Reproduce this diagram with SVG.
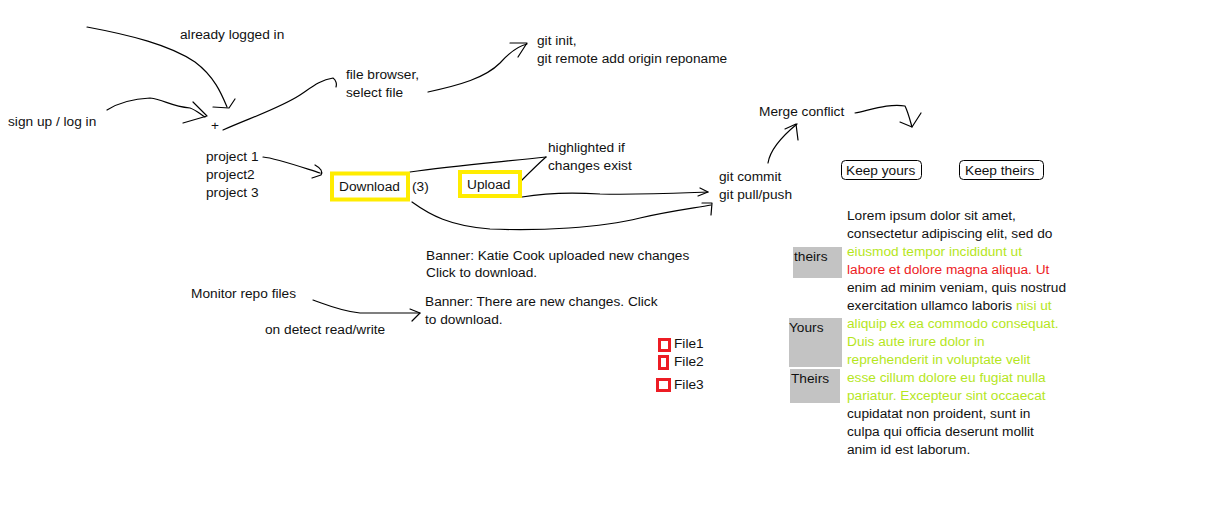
<svg xmlns="http://www.w3.org/2000/svg" width="1213" height="510" viewBox="0 0 1213 510">
<style>
text{font-family:"Liberation Sans",Arial,sans-serif;font-size:13.7px;fill:#111}
.c{fill:none;stroke:#000;stroke-width:1.2;stroke-linejoin:round;stroke-linecap:round}
.y{fill:#fff;stroke:#ffec00;stroke-width:4}
.k{fill:#fff;stroke:#000;stroke-width:1}
.g{fill:#c3c3c3}
.r{fill:#fff;stroke:#ed1c24;stroke-width:3}
.lg{fill:#b5e61d}
.rd{fill:#ed1c24}
</style>
<rect width="1213" height="510" fill="#fff"/>
<g id="connectors">
<path class="c" d="M87,27 C130,35 170,45 195,62 C215,77 222,95 227,107"/>
<path class="c" d="M213,107 L229,108 L235,99"/>
<path class="c" d="M107,110 C118,103 130,99 150,98 C165,100 170,106 190,108 C196,110 200,114 205,117"/>
<path class="c" d="M193,102 L207,116 L183,123"/>
<path class="c" d="M223,130 C250,118 280,108 300,95 C312,87 320,80 333,78 C336,80 337,84 336,87"/>
<path class="c" d="M428,92 C460,85 485,78 500,63 C510,52 518,46 527,44"/>
<path class="c" d="M510,43 L527,43 L518,57"/>
<path class="c" d="M263,157 C275,158 295,165 320,173"/>
<path class="c" d="M315,165 Q324,170 321,175 L312,178"/>
<path class="c" d="M410,172 C450,166 500,162 546,157"/>
<path class="c" d="M521,181 C530,172 538,164 546,157"/>
<path class="c" d="M522,197 C545,193 570,192 600,194 C640,195 680,193 708,192"/>
<path class="c" d="M700,188 L708,192 L698,196"/>
<path class="c" d="M412,202 C430,215 450,226 490,229 C540,231 600,228 640,218 C670,211 695,208 711,205"/>
<path class="c" d="M702,203 L712,203 L711,215"/>
<path class="c" d="M768,163 C770,150 780,138 797,124"/>
<path class="c" d="M785,129 L796,124 L798,140"/>
<path class="c" d="M855,113 C870,110 890,103 905,106 C908,112 910,120 912,127"/>
<path class="c" d="M900,122 L912,127 L921,113"/>
<path class="c" d="M313,300 C325,304 340,311 360,313 L420,313"/>
<path class="c" d="M410,309 L420,313 L412,321"/>
</g>
<g id="already-logged-in"><text x="180" y="39">already logged in</text></g>
<g id="sign-up"><text x="8" y="126">sign up / log in</text></g>
<g id="plus"><text x="211" y="130">+</text></g>
<g id="file-browser"><text x="346" y="79">file browser,</text><text x="346" y="97">select file</text></g>
<g id="git-init"><text x="537" y="45">git init,</text><text x="537" y="63">git remote add origin reponame</text></g>
<g id="projects"><text x="206" y="161">project 1</text><text x="206" y="179">project2</text><text x="206" y="197">project 3</text></g>
<g id="download"><rect class="y" x="332" y="173.5" width="76" height="26"/><text x="339" y="191">Download</text></g>
<g id="count"><text x="412" y="191">(3)</text></g>
<g id="upload"><rect class="y" x="460" y="172" width="60" height="24"/><text x="467" y="189">Upload</text></g>
<g id="highlighted"><text x="548" y="152">highlighted if</text><text x="548" y="170">changes exist</text></g>
<g id="git-commit"><text x="719" y="181">git commit</text><text x="719" y="199">git pull/push</text></g>
<g id="merge-conflict"><text x="759" y="116">Merge conflict</text></g>
<g id="keep-yours"><rect class="k" x="841.5" y="160.5" width="80" height="19" rx="4"/><text x="846" y="175">Keep yours</text></g>
<g id="keep-theirs"><rect class="k" x="959.5" y="160.5" width="84" height="19" rx="4"/><text x="965" y="175">Keep theirs</text></g>
<g id="banner1"><text x="426" y="260">Banner: Katie Cook uploaded new changes</text><text x="426" y="277">Click to download.</text></g>
<g id="banner2"><text x="425" y="306">Banner: There are new changes. Click</text><text x="425" y="324">to download.</text></g>
<g id="monitor"><text x="191" y="298">Monitor repo files</text></g>
<g id="on-detect"><text x="265" y="334">on detect read/write</text></g>
<g id="files">
<rect class="r" x="659.5" y="339.5" width="10" height="11"/><text x="674" y="348">File1</text>
<rect class="r" x="659.5" y="356.5" width="8" height="12"/><text x="674" y="366">File2</text>
<rect class="r" x="657.5" y="379.5" width="12" height="11"/><text x="674" y="389">File3</text>
</g>
<g id="labels-gray">
<rect class="g" x="793" y="247" width="49" height="31"/><text x="794" y="261">theirs</text>
<rect class="g" x="789" y="318" width="53" height="49"/><text x="789" y="332">Yours</text>
<rect class="g" x="790" y="369" width="50" height="34"/><text x="791" y="383">Theirs</text>
</g>
<g id="lorem">
<text x="847" y="220">Lorem ipsum dolor sit amet,</text>
<text x="847" y="238">consectetur adipiscing elit, sed do</text>
<text x="847" y="256" class="lg">eiusmod tempor incididunt ut</text>
<text x="847" y="274" class="rd">labore et dolore magna aliqua. Ut</text>
<text x="847" y="292">enim ad minim veniam, quis nostrud</text>
<text x="847" y="310">exercitation ullamco laboris <tspan class="lg">nisi ut</tspan></text>
<text x="847" y="328" class="lg">aliquip ex ea commodo consequat.</text>
<text x="847" y="346" class="lg">Duis aute irure dolor in</text>
<text x="847" y="364" class="lg">reprehenderit in voluptate velit</text>
<text x="847" y="382" class="lg">esse cillum dolore eu fugiat nulla</text>
<text x="847" y="400" class="lg">pariatur. Excepteur sint occaecat</text>
<text x="847" y="418">cupidatat non proident, sunt in</text>
<text x="847" y="436">culpa qui officia deserunt mollit</text>
<text x="847" y="454">anim id est laborum.</text>
</g>
</svg>
